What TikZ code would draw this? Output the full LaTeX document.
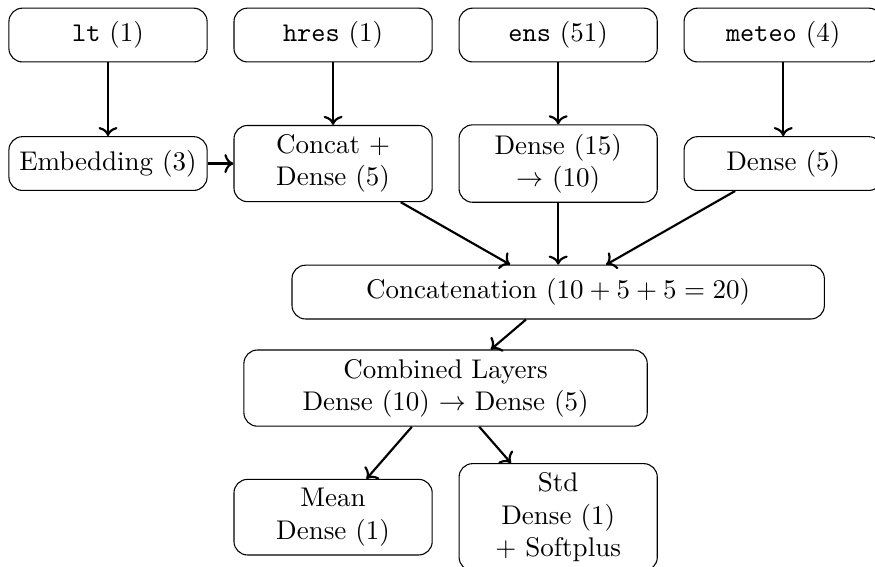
\documentclass[tikz,border=0pt]{standalone}
\usepackage{amsmath,amssymb}
\usepackage{tikz}
\usetikzlibrary{positioning, arrows.meta, calc}

\begin{document}
\begin{tikzpicture}[
    layer/.style={rectangle, draw, align=center, rounded corners=5pt, minimum width=2.58cm, minimum height=0.7cm},
    wide/.style={layer, minimum width=6.93cm},
    combo/.style={layer, minimum width=5.25cm},
    flow/.style={draw, thick, ->}
]
    \useasboundingbox (0,0) rectangle (11.39,-7.38);

    % Inputs
    \node[layer] (lt) at (1.406,-0.456) {\texttt{lt} (1)};
    \node[layer] (hres) at (4.336,-0.456) {\texttt{hres} (1)};
    \node[layer] (ens) at (7.266,-0.456) {\texttt{ens} (51)};
    \node[layer] (meteo) at (10.195,-0.456) {\texttt{meteo} (4)};

    % Branches
    \node[layer] (embed) at (1.406,-2.129) {Embedding (3)};
    \node[layer] (concatdense) at (4.336,-2.129) {Concat +\\Dense (5)};
    \node[layer] (ensdense) at (7.266,-2.129) {Dense (15)\\$\rightarrow$ (10)};
    \node[layer] (meteodense) at (10.195,-2.129) {Dense (5)};

    % Merge
    \node[wide] (concat) at (7.266,-3.802) {Concatenation ($10 + 5 + 5 = 20$)};
    \node[combo] (combined) at (5.80,-5.052) {Combined Layers\\Dense (10) $\rightarrow$ Dense (5)};

    % Outputs
    \node[layer] (mean) at (4.336,-6.732) {Mean\\Dense (1)};
    \node[layer] (std) at (7.266,-6.732) {Std\\Dense (1)\\+ Softplus};

    % Connections
    \draw[flow] (lt) -- (embed);
    \draw[flow] (hres) -- (concatdense);
    \draw[flow] (ens) -- (ensdense);
    \draw[flow] (meteo) -- (meteodense);
    \draw[flow] (embed) -- (concatdense);

    \draw[flow] (concatdense) -- (concat);
    \draw[flow] (ensdense) -- (concat);
    \draw[flow] (meteodense) -- (concat);

    \draw[flow] (concat) -- (combined);
    \draw[flow] (combined) -- (mean);
    \draw[flow] (combined) -- (std);

\end{tikzpicture}
\end{document}
